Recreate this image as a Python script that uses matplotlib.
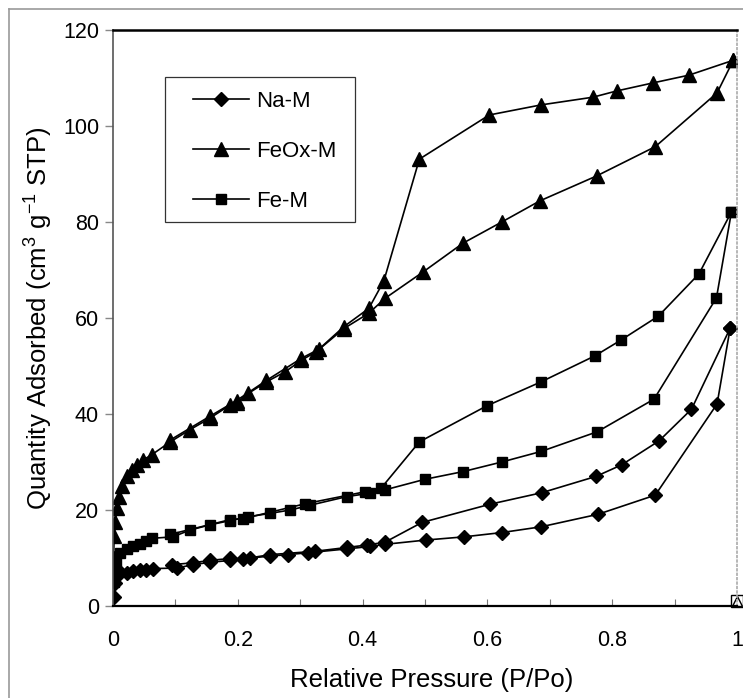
import matplotlib.pyplot as plt
from matplotlib.lines import Line2D
from matplotlib.patches import Rectangle

plt.rcParams["font.family"] = ["Liberation Sans", "DejaVu Sans"]
plt.rcParams["mathtext.fontset"] = "custom"
plt.rcParams["mathtext.rm"] = "Liberation Sans"
plt.rcParams["mathtext.it"] = "Liberation Sans:italic"

# Na-M adsorption / desorption
na_ads_x = [0.001, 0.003, 0.006, 0.011, 0.022, 0.032, 0.043, 0.053, 0.064, 0.102, 0.128,
            0.155, 0.188, 0.220, 0.252, 0.280, 0.313, 0.375, 0.412, 0.436, 0.502, 0.562,
            0.623, 0.686, 0.777, 0.869, 0.968, 0.989]
na_ads_y = [1.9, 4.7, 6.2, 7.1, 6.9, 7.2, 7.4, 7.5, 7.8, 7.9, 8.6,
            9.1, 9.5, 10.0, 10.4, 10.7, 11.1, 11.9, 12.4, 12.85, 13.75, 14.4,
            15.3, 16.5, 19.1, 23.1, 42.1, 57.9]
na_des_x = [0.989, 0.927, 0.875, 0.815, 0.774, 0.687, 0.604, 0.495, 0.436, 0.407, 0.375,
            0.324, 0.252, 0.209, 0.188, 0.155, 0.128, 0.094]
na_des_y = [57.9, 41.0, 34.4, 29.4, 27.0, 23.6, 21.2, 17.4, 13.3, 12.7, 12.2,
            11.4, 10.7, 9.8, 9.9, 9.5, 9.0, 8.6]

# FeOx-M adsorption / desorption
feox_ads_x = [0.001, 0.002, 0.004, 0.006, 0.009, 0.014, 0.022, 0.030, 0.038, 0.048, 0.062,
              0.092, 0.123, 0.155, 0.188, 0.198, 0.217, 0.246, 0.276, 0.302, 0.326, 0.370,
              0.410, 0.436, 0.497, 0.561, 0.623, 0.684, 0.775, 0.869, 0.968, 0.994]
feox_ads_y = [10.0, 14.6, 17.5, 20.5, 22.8, 25.0, 27.0, 28.3, 29.4, 30.4, 31.5,
              34.2, 36.7, 39.1, 41.9, 42.3, 44.3, 46.7, 48.8, 51.2, 53.0, 57.8,
              61.0, 64.1, 69.6, 75.6, 80.0, 84.4, 89.6, 95.7, 106.9, 113.7]
feox_des_x = [0.994, 0.923, 0.866, 0.807, 0.769, 0.686, 0.603, 0.491, 0.434, 0.410, 0.370,
              0.330, 0.302, 0.246, 0.198, 0.155, 0.092]
feox_des_y = [113.7, 110.6, 109.0, 107.3, 106.0, 104.4, 102.3, 93.1, 67.7, 62.0, 58.2,
              53.5, 51.6, 47.0, 42.8, 39.5, 34.6]

# Fe-M adsorption / desorption
fe_ads_x = [0.001, 0.001, 0.003, 0.005, 0.011, 0.022, 0.032, 0.043, 0.053, 0.062, 0.096,
            0.123, 0.155, 0.188, 0.217, 0.252, 0.284, 0.316, 0.375, 0.412, 0.436, 0.500,
            0.561, 0.623, 0.686, 0.776, 0.867, 0.967, 0.991]
fe_ads_y = [5.0, 7.5, 8.5, 9.4, 11.1, 11.8, 12.5, 13.0, 13.5, 14.1, 14.4,
            15.8, 16.9, 17.8, 18.6, 19.3, 20.0, 21.0, 22.8, 23.5, 24.2, 26.4,
            28.0, 30.0, 32.2, 36.3, 43.1, 64.2, 82.1]
fe_des_x = [0.991, 0.939, 0.874, 0.814, 0.772, 0.686, 0.599, 0.491, 0.430, 0.404, 0.308,
            0.209, 0.188, 0.091]
fe_des_y = [82.1, 69.2, 60.4, 55.4, 52.1, 46.7, 41.7, 34.2, 24.6, 23.8, 21.3,
            18.2, 18.0, 14.9]

# stray open markers at P/Po = 1
end_x = [1.0]
end_y = [1.0]

W, H = 743, 698
fig = plt.figure(figsize=(W / 100, H / 100), dpi=100)
ax = fig.add_axes([0.152, 0.1318, 0.84, 0.8252])

# outer frame of the scanned figure
fig.add_artist(Line2D([9 / W, 1], [1 - 9 / H, 1 - 9 / H], color="#999999", lw=1.2))
fig.add_artist(Line2D([9 / W, 9 / W], [0, 1 - 9 / H], color="#999999", lw=1.2))

style = dict(color="black", lw=1.2)
ax.plot(na_ads_x, na_ads_y, marker="D", ms=7.5, **style, label="Na-M")
ax.plot(na_des_x, na_des_y, marker="D", ms=7.5, **style)
ax.plot(feox_ads_x, feox_ads_y, marker="^", ms=9.5, **style, label="FeOx-M")
ax.plot(feox_des_x, feox_des_y, marker="^", ms=9.5, **style)
ax.plot(fe_ads_x, fe_ads_y, marker="s", ms=7.8, **style, label="Fe-M")
ax.plot(fe_des_x, fe_des_y, marker="s", ms=7.8, **style)

ax.plot(end_x, end_y, ls="none", marker="s", ms=8, mfc="white", mec="black", mew=1, clip_on=False)
ax.plot(end_x, end_y, ls="none", marker="^", ms=7, mfc="white", mec="black", mew=1, clip_on=False)

ax.set_xlim(0, 1)
ax.set_ylim(0, 120)
ax.set_xticks([0, 0.2, 0.4, 0.6, 0.8, 1.0])
ax.set_xticklabels(["0", "0.2", "0.4", "0.6", "0.8", "1"])
ax.set_xticks([0.1, 0.3, 0.5, 0.7, 0.9], minor=True)
ax.set_yticks([0, 20, 40, 60, 80, 100, 120])
ax.tick_params(axis="x", which="both", direction="in", length=5, width=0.8, color="#777777",
               labelsize=15.5, pad=17)
ax.tick_params(axis="y", direction="out", length=6, width=1, color="#888888", labelsize=15.5, pad=4)

ax.spines["top"].set_linewidth(1.8)
ax.spines["bottom"].set_linewidth(1.6)
ax.spines["left"].set_color("#555555")
ax.spines["left"].set_linewidth(1.2)
ax.spines["right"].set_color("#aaaaaa")
ax.spines["right"].set_linestyle(":")
ax.spines["right"].set_linewidth(1.2)

ax.set_xlabel("Relative Pressure (P/Po)", fontsize=18.5)
ax.xaxis.set_label_coords(0.511, -0.108)
ax.set_ylabel(r"Quantity Adsorbed (cm$^3$ g$^{-1}$ STP)", fontsize=18.5, labelpad=6)

# legend frame drawn as its own box, entries placed inside it
ax.add_patch(Rectangle(((165 - 113) / 624, (606 - 222) / 576), 190 / 624, 145 / 576,
                       transform=ax.transAxes, facecolor="white", edgecolor="#333333",
                       lw=0.9, zorder=4))
leg = ax.legend(loc="upper left", bbox_to_anchor=((193 - 113) / 624, (606 - 91) / 576),
                fontsize=16, frameon=False, handlelength=2.5, labelspacing=1.3,
                borderpad=0, handletextpad=0.35, borderaxespad=0)
leg.set_zorder(5)

fig.savefig("out.png", dpi=100)
